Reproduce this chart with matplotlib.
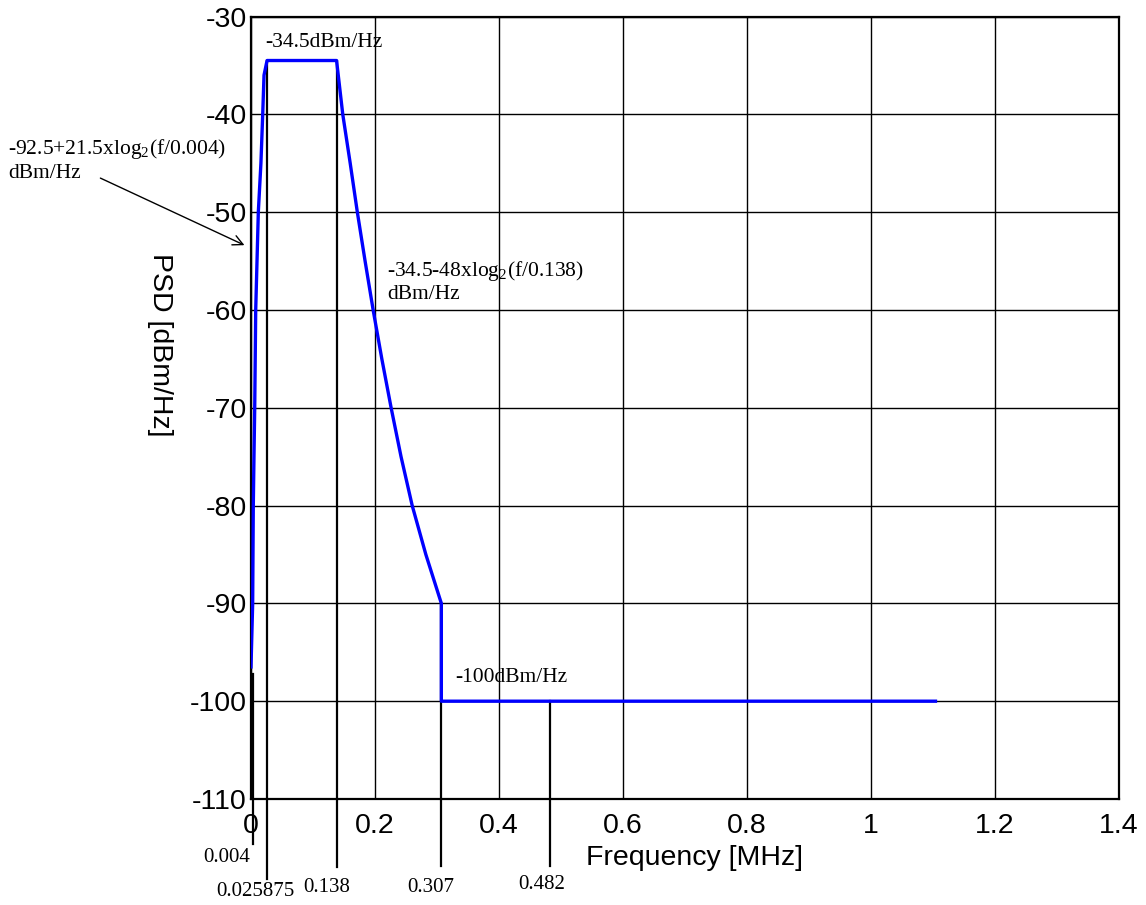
import matplotlib
matplotlib.use("Agg")
import matplotlib.pyplot as plt

plt.rcParams['font.family'] = ['Liberation Sans', 'DejaVu Sans']
plt.rcParams['mathtext.fontset'] = 'custom'
plt.rcParams['mathtext.rm'] = 'Liberation Serif'
plt.rcParams['axes.unicode_minus'] = False

# PSD mask (MHz, dBm/Hz)
freq = [0.0, 0.0027, 0.0037, 0.0048, 0.006, 0.0076, 0.0097, 0.0118, 0.016,
        0.0189, 0.021, 0.0259, 0.138, 0.148, 0.160, 0.1715, 0.184, 0.197,
        0.211, 0.226, 0.242, 0.26, 0.282, 0.307, 0.307, 1.104]
psd = [-96.5, -90, -80, -75, -70, -60, -55, -50, -45,
       -40, -36, -34.5, -34.5, -40, -45, -50, -55, -60,
       -65, -70, -75, -80, -85, -90, -100, -100]

# breakpoint markers below the axis
mark_f = [0.004, 0.025875, 0.138, 0.307, 0.482]
mark_top = [-97.2, -34.5, -34.5, -90, -100]
mark_bottom = [-114.6, -118.2, -117.0, -116.9, -116.9]
mark_text = ['0.004', '0.025875', '0.138', '0.307', '0.482']

xticks = [0, 0.2, 0.4, 0.6, 0.8, 1.0, 1.2, 1.4]
xtick_labels = ['0', '0.2', '0.4', '0.6', '0.8', '1', '1.2', '1.4']
yticks = list(range(-110, -29, 10))

fig = plt.figure(figsize=(11.46, 9.05), dpi=100)
ax = fig.add_axes([251 / 1146, 1 - 799 / 905, 868 / 1146, 782.5 / 905])

ax.plot(freq, psd, color='#0000ff', lw=2.4, zorder=3)

ax.set_xlim(0, 1.4)
ax.set_ylim(-110, -30)
ax.set_xticks(xticks)
ax.set_xticklabels(xtick_labels)
ax.set_yticks(yticks)
ax.tick_params(length=0, labelsize=20.5)
ax.tick_params(axis='x', pad=10)
ax.tick_params(axis='y', pad=3)
ax.grid(True, color='black', lw=1.0)
for s in ax.spines.values():
    s.set_linewidth(1.6)

serif = ['Liberation Serif', 'DejaVu Serif']
for f, top, bot, t in zip(mark_f, mark_top, mark_bottom, mark_text):
    ax.plot([f, f], [top, bot], color='black', lw=1.6, clip_on=False, zorder=2)

label_pos = [(-0.0387, -116.0), (0.0065, -119.5), (0.1226, -119.0),
             (0.290, -119.0), (0.469, -118.7)]
for (x, y), t in zip(label_pos, mark_text):
    ax.text(x, y, t, ha='center', va='center', fontsize=15, family=serif,
            clip_on=False)

fs = 15.5
ax.text(0.0226, -32.7, '-34.5dBm/Hz', ha='left', va='center', fontsize=fs,
        family=serif)
ax.text(-0.392, -44.7,
        '-92.5+21.5xlog$_\\mathregular{2}$(f/0.004)\ndBm/Hz',
        ha='left', va='center', fontsize=fs, family=serif, linespacing=1.2)
ax.annotate('', xy=(-0.0065, -53.5), xytext=(-0.247, -46.4),
            arrowprops=dict(arrowstyle='->', color='black', lw=1.0,
                            mutation_scale=18),
            annotation_clip=False)
ax.text(0.219, -57.1,
        '-34.5-48xlog$_\\mathregular{2}$(f/0.138)\ndBm/Hz',
        ha='left', va='center', fontsize=fs, family=serif, linespacing=1.2)
ax.text(0.329, -97.6, '-100dBm/Hz', ha='left', va='center', fontsize=fs,
        family=serif)

fig.text(695 / 1146, 1 - 858 / 905, 'Frequency [MHz]', ha='center',
         va='center', fontsize=20.5)
fig.text(160 / 1146, 1 - 345 / 905, 'PSD [dBm/Hz]', ha='center',
         va='center', fontsize=20.5, rotation=270)

fig.savefig('out.png', dpi=100)
